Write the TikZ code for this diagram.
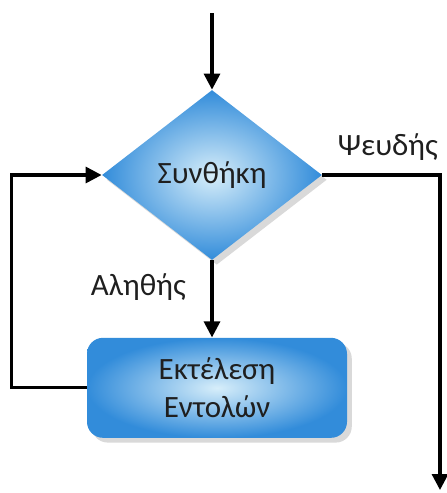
\documentclass[tikz,border=0pt]{standalone}
\usepackage{fontspec}
\setmainfont{Carlito}
\usetikzlibrary{shapes,arrows.meta,positioning,shadows}
\definecolor{edgeblue}{RGB}{50,140,218}
\definecolor{coreblue}{RGB}{215,238,250}

\begin{document}
\begin{tikzpicture}[x=0.5pt, y=-0.5pt, node distance=38.5pt,
  every node/.style={font=\fontsize{15.5}{19}\selectfont, text=black!88},
  cond/.style={diamond, aspect=1.29, minimum width=110pt, minimum height=85pt, inner sep=0pt,
    inner color=coreblue, outer color=edgeblue, drop shadow={opacity=0.3}},
  task/.style={rectangle, rounded corners=8pt, minimum width=130pt, minimum height=50pt, align=center,
    inner color=coreblue, outer color=edgeblue, drop shadow={opacity=0.3}},
  flow/.style={line width=1.6pt, -{Triangle[length=8pt, width=8pt]}}]
	\useasboundingbox (0,0) rectangle (446,493);
	\node[cond] (cond) at (212,175) {Συνθήκη};
	\node[task, below=of cond, xshift=2.5pt] (body) {Εκτέλεση\\Εντολών};
	\coordinate (start) at (212,13);
	\coordinate (exit) at (440,490);
	
	\draw[flow] (start) -- (cond.north);
	\draw[flow] (cond.south) -- node[pos=0.35, left=9pt] (yes) {Αληθής} (cond.south |- body.north);
	\draw[flow] (body.west) -- ++(-75,0) |- (cond.west);
	\draw[flow] (cond.east) -| node[pos=0.5, anchor=south east, xshift=3pt, yshift=3pt] (no) {Ψευδής} (exit);
\end{tikzpicture}
\end{document}
